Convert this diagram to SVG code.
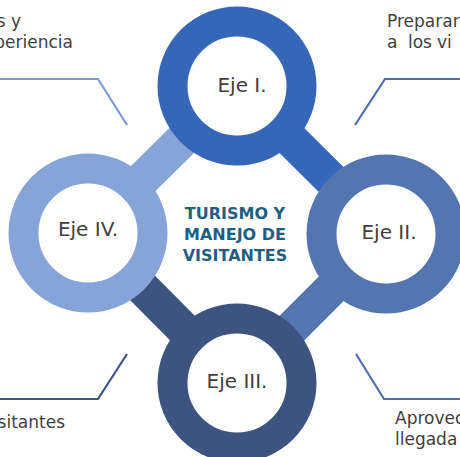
<svg xmlns="http://www.w3.org/2000/svg" width="460" height="457" viewBox="0 0 460 457">
  <style>
    .ring { fill: #ffffff; stroke-width: 30; }
    .bar { stroke-width: 35; stroke-linecap: butt; fill: none; }
    .lead { fill: none; stroke-width: 2.2; stroke-linejoin: miter; }
    .axis { font-family: "DejaVu Sans", "Liberation Sans", sans-serif; font-size: 20px; fill: #404040; text-anchor: middle; }
    .note { font-family: "DejaVu Sans", "Liberation Sans", sans-serif; font-size: 17px; fill: #404040; }
    .title { font-family: "DejaVu Sans", "Liberation Sans", sans-serif; font-size: 16px; font-weight: bold; fill: #1f5f80; text-anchor: middle; }
  </style>
  <rect width="460" height="457" fill="#ffffff"/>

  <!-- thick links between the axis rings -->
  <g id="connectors">
    <line class="bar" x1="237" y1="86" x2="386" y2="234" stroke="#3566b8"/>
    <line class="bar" x1="386" y1="234" x2="237" y2="383" stroke="#5475b0"/>
    <line class="bar" x1="237" y1="383" x2="88" y2="233" stroke="#3d5480"/>
    <line class="bar" x1="88" y1="233" x2="237" y2="86" stroke="#86a4d7"/>
    <!-- leader lines towards the side notes -->
    <polyline class="lead" points="0,79 98,79 127,125" stroke="#7b9bd5"/>
    <polyline class="lead" points="460,79 385,79 355,125" stroke="#4e6daf"/>
    <polyline class="lead" points="0,399 98,399 127,354" stroke="#3d5480"/>
    <polyline class="lead" points="460,399 384,399 356,354" stroke="#4f6fb0"/>
  </g>

  <g id="eje-1">
    <circle class="ring" cx="237" cy="86" r="64.5" stroke="#3566b8"/>
    <text class="axis" x="242" y="92">Eje I.</text>
  </g>
  <g id="eje-2">
    <circle class="ring" cx="386" cy="234" r="64.5" stroke="#5475b0"/>
    <text class="axis" x="389" y="239">Eje II.</text>
  </g>
  <g id="eje-3">
    <circle class="ring" cx="237" cy="383" r="64.5" stroke="#3d5480"/>
    <text class="axis" x="237" y="388">Eje III.</text>
  </g>
  <g id="eje-4">
    <circle class="ring" cx="88" cy="233" r="64.5" stroke="#86a4d7"/>
    <text class="axis" x="88" y="236">Eje IV.</text>
  </g>

  <g id="centro">
    <text class="title" x="235" y="219">TURISMO Y</text>
    <text class="title" x="235" y="240">MANEJO DE</text>
    <text class="title" x="235" y="261">VISITANTES</text>
  </g>

  <g id="notas">
    <text class="note" x="21" y="27" text-anchor="end">s y</text>
    <text class="note" x="73" y="48" text-anchor="end">periencia</text>
    <text class="note" x="387" y="27">Preparar</text>
    <text class="note" y="48"><tspan x="387">a</tspan><tspan x="408">los</tspan><tspan x="437">vi</tspan></text>
    <text class="note" x="65" y="428" text-anchor="end">sitantes</text>
    <text class="note" x="395" y="424">Aprovec</text>
    <text class="note" x="395" y="445">llegada</text>
  </g>
</svg>
